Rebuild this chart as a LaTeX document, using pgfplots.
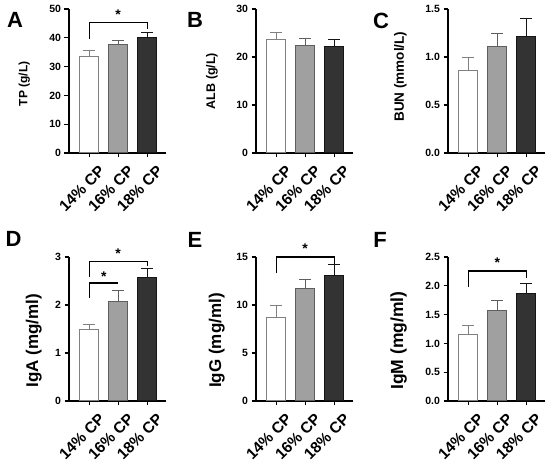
\documentclass[border=0pt]{standalone}
\usepackage{fontspec}
\setmainfont{Liberation Sans}
\usepackage{pgfplots}
\pgfplotsset{compat=1.18}
\definecolor{eA}{HTML}{808080}
\definecolor{fB}{HTML}{A0A0A0}
\definecolor{eB}{HTML}{5E5E5E}
\definecolor{fC}{HTML}{333333}
\definecolor{eC}{HTML}{151515}
\pgfplotsset{
 panel/.style={
  scale only axis, width=97pt, height=144pt,
  xmin=-0.7, xmax=2.65, ymin=0,
  axis lines=left, axis line style={-, line width=1.2pt},
  tick align=outside, major tick length=4.5pt,
  every tick/.style={black, line width=1.2pt},
  xtick={0,1,2}, xticklabels={14\% CP,16\% CP,18\% CP},
  xticklabel style={font=\fontsize{15.5}{15.5}\selectfont\bfseries, rotate=45, anchor=north east, inner sep=0pt, xshift=1.5pt, yshift=-11pt},
  yticklabel style={font=\fontsize{10.5}{10.5}\selectfont\bfseries},
  /pgf/number format/assume math mode=true,
  clip=false, bar width=19pt,
 },
 one/.style={ybar, bar shift=0pt, fill=white, draw=eA, line width=1pt, mark=none,
   error bars/.cd, y dir=plus, y explicit, error bar style={line width=1pt, eA},
   error mark options={rotate=90, mark size=6pt, line width=1pt, eA}},
 two/.style={ybar, bar shift=0pt, fill=fB, draw=eB, line width=1pt, mark=none,
   error bars/.cd, y dir=plus, y explicit, error bar style={line width=1pt, eB},
   error mark options={rotate=90, mark size=6pt, line width=1pt, eB}},
 three/.style={ybar, bar shift=0pt, fill=fC, draw=eC, line width=1pt, mark=none,
   error bars/.cd, y dir=plus, y explicit, error bar style={line width=1pt, eC},
   error mark options={rotate=90, mark size=6pt, line width=1pt, eC}},
 brk/.style={black, line width=1.2pt, mark=none, sharp plot},
 lab/.style n args={3}{ylabel style={at={(axis description cs:#1,#3)}, anchor=south, inner sep=0pt, font=\fontsize{#2}{#2}\selectfont\bfseries}},
 onedec/.style={yticklabel style={/pgf/number format/.cd, fixed, fixed zerofill, precision=1}},
}
\newcommand{\panelletter}[3]{\node[font=\fontsize{22}{22}\selectfont\bfseries] at (rel axis cs:#1,#2) {#3};}
\newcommand{\sigstar}[2]{\node[anchor=north, inner sep=0pt, font=\fontsize{14}{14}\selectfont\bfseries] at (axis cs:#1,#2) {*};}
\begin{document}
\begin{tikzpicture}
\path[use as bounding box] (0,0) rectangle (550pt,462pt);
% A
\begin{axis}[panel, at={(69pt,309pt)}, anchor=south west, ymax=50, ytick={0,10,20,30,40,50},
  lab={-0.402}{12}{0.48}, ylabel={TP (g/L)}]
\addplot[one] coordinates {(0,33.6) +- (0,2.0)};
\addplot[two] coordinates {(1,37.5) +- (0,1.6)};
\addplot[three] coordinates {(2,40.1) +- (0,1.9)};
\addplot[brk] coordinates {(0,39.6) (0,45.3) (2,45.3) (2,43.0)};
\sigstar{1}{49.6}
\panelletter{-0.557}{0.927}{A}
\end{axis}
% B
\begin{axis}[panel, at={(256pt,309pt)}, anchor=south west, ymax=30, ytick={0,10,20,30},
  lab={-0.392}{12.5}{0.5}, ylabel={ALB (g/L)}]
\addplot[one] coordinates {(0,23.6) +- (0,1.6)};
\addplot[two] coordinates {(1,22.4) +- (0,1.5)};
\addplot[three] coordinates {(2,22.2) +- (0,1.5)};
\panelletter{-0.629}{0.924}{B}
\end{axis}
% C
\begin{axis}[panel, onedec, at={(448pt,309pt)}, anchor=south west, ymax=1.5, ytick={0,0.5,1,1.5},
  lab={-0.423}{13.5}{0.53}, ylabel={BUN (mmol/L)}]
\addplot[one] coordinates {(0,0.855) +- (0,0.135)};
\addplot[two] coordinates {(1,1.113) +- (0,0.13)};
\addplot[three] coordinates {(2,1.213) +- (0,0.187)};
\panelletter{-0.69}{0.917}{C}
\end{axis}
% D
\begin{axis}[panel, at={(69pt,61pt)}, anchor=south west, ymax=3, ytick={0,1,2,3},
  lab={-0.278}{17}{0.42}, ylabel={IgA (mg/ml)}]
\addplot[one] coordinates {(0,1.49) +- (0,0.10)};
\addplot[two] coordinates {(1,2.08) +- (0,0.22)};
\addplot[three] coordinates {(2,2.57) +- (0,0.19)};
\addplot[brk] coordinates {(0,2.58) (0,2.91) (2,2.91) (2,2.81)};
\addplot[brk] coordinates {(0,2.15) (0,2.46) (1,2.46)};
\sigstar{1}{3.17}
\sigstar{0.5}{2.70}
\panelletter{-0.572}{1.125}{D}
\end{axis}
% E
\begin{axis}[panel, at={(256pt,61pt)}, anchor=south west, ymax=15, ytick={0,5,10,15},
  lab={-0.32}{17}{0.42}, ylabel={IgG (mg/ml)}]
\addplot[one] coordinates {(0,8.72) +- (0,1.18)};
\addplot[two] coordinates {(1,11.69) +- (0,1.0)};
\addplot[three] coordinates {(2,13.03) +- (0,1.21)};
\addplot[brk] coordinates {(0,13.38) (0,15.0) (2,15.0) (2,14.3)};
\sigstar{1}{16.4}
\panelletter{-0.629}{1.118}{E}
\end{axis}
% F
\begin{axis}[panel, onedec, at={(448pt,61pt)}, anchor=south west, ymax=2.5, ytick={0,0.5,1,1.5,2,2.5},
  lab={-0.423}{17.5}{0.42}, ylabel={IgM (mg/ml)}]
\addplot[one] coordinates {(0,1.157) +- (0,0.151)};
\addplot[two] coordinates {(1,1.576) +- (0,0.174)};
\addplot[three] coordinates {(2,1.872) +- (0,0.168)};
\addplot[brk] coordinates {(0,1.98) (0,2.256) (2,2.256) (2,2.14)};
\sigstar{1}{2.48}
\panelletter{-0.70}{1.118}{F}
\end{axis}
\end{tikzpicture}
\end{document}
